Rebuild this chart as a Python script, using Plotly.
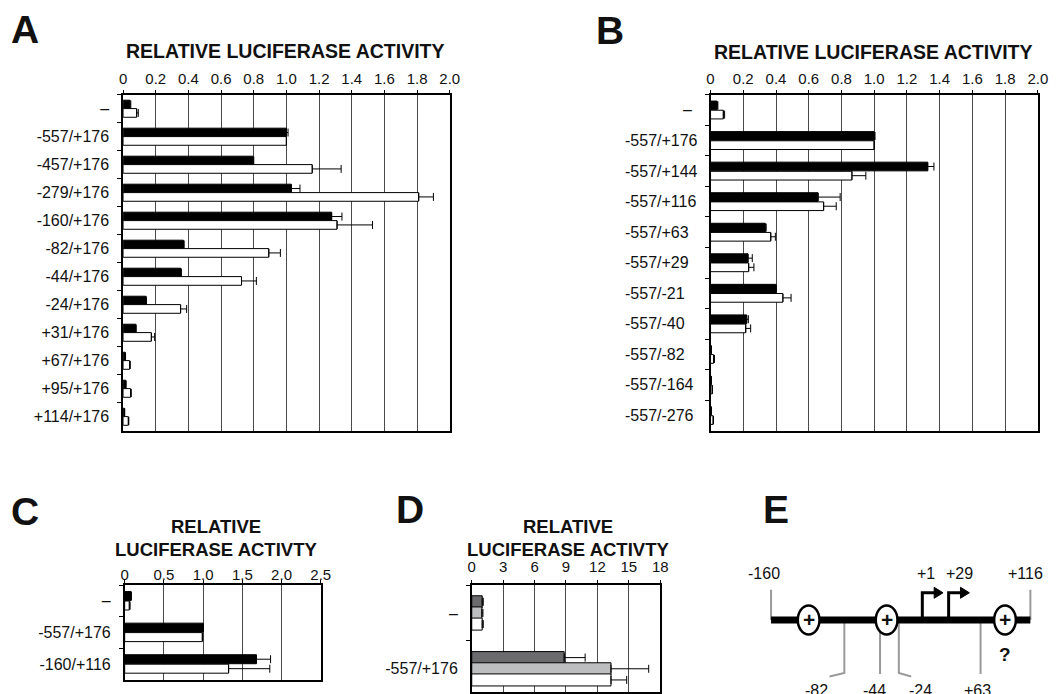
import plotly.graph_objects as go

W, H = 1060, 694
FONT = "Liberation Sans, Arial, sans-serif"


def px(x):
    """page x pixel -> paper coordinate"""
    return x / W


def py(y):
    """page y pixel -> paper coordinate"""
    return 1 - y / H


# ---------------- data ----------------
a_cats = ["–", "-557/+176", "-457/+176", "-279/+176", "-160/+176", "-82/+176",
          "-44/+176", "-24/+176", "+31/+176", "+67/+176", "+95/+176", "+114/+176"]
a_black = [0.042, 1.0, 0.795, 1.03, 1.277, 0.369, 0.352, 0.139, 0.077, 0.012, 0.016, 0.008]
a_black_err = [0.005, 0.01, 0.005, 0.053, 0.063, 0.005, 0.005, 0.004, 0.003, 0.003, 0.002, 0.002]
a_white = [0.083, 1.0, 1.158, 1.81, 1.31, 0.892, 0.725, 0.352, 0.173, 0.040, 0.046, 0.032]
a_white_err = [0.01, 0.0, 0.177, 0.09, 0.217, 0.071, 0.091, 0.037, 0.02, 0.004, 0.004, 0.003]

b_cats = ["–", "-557/+176", "-557/+144", "-557/+116", "-557/+63", "-557/+29",
          "-557/-21", "-557/-40", "-557/-82", "-557/-164", "-557/-276"]
b_black = [0.04, 1.0, 1.327, 0.657, 0.334, 0.229, 0.398, 0.221, 0.004, 0.004, 0.004]
b_black_err = [0.005, 0.005, 0.038, 0.135, 0.006, 0.026, 0.004, 0.01, 0.0, 0.0, 0.0]
b_white = [0.078, 1.0, 0.864, 0.691, 0.368, 0.233, 0.442, 0.215, 0.018, 0.010, 0.016]
b_white_err = [0.008, 0.0, 0.085, 0.077, 0.028, 0.032, 0.05, 0.03, 0.006, 0.002, 0.002]

c_cats = ["–", "-557/+176", "-160/+116"]
c_black = [0.083, 1.0, 1.68]
c_black_err = [0.0, 0.005, 0.18]
c_white = [0.059, 0.99, 1.325]
c_white_err = [0.01, 0.005, 0.525]

d_cats = ["–", "-557/+176"]
d_dark = [1.0, 8.83]
d_dark_err = [0.1, 2.0]
d_light = [0.97, 13.3]
d_light_err = [0.1, 3.6]
d_white = [1.0, 13.3]
d_white_err = [0.1, 1.5]

a_ticks = [0, 0.2, 0.4, 0.6, 0.8, 1.0, 1.2, 1.4, 1.6, 1.8, 2.0]
a_ticktext = ["0", "0.2", "0.4", "0.6", "0.8", "1.0", "1.2", "1.4", "1.6", "1.8", "2.0"]
c_ticks = [0, 0.5, 1.0, 1.5, 2.0, 2.5]
c_ticktext = ["0", "0.5", "1.0", "1.5", "2.0", "2.5"]
d_ticks = [0, 3, 6, 9, 12, 15, 18]

# promoter map (panel E), positions in bp
e_start, e_end = -160, 116
e_elements = [-120, -37, 89]
e_tss = [1, 29]
e_marks_below = [-82, -44, -24, 63]

fig = go.Figure()


def bar(name, x, err, cats, color, xa, ya, width):
    return go.Bar(
        y=cats, x=x, orientation="h", name=name, width=width,
        marker=dict(color=color, line=dict(color="black", width=1)),
        error_x=dict(type="data", array=err, arrayminus=[0] * len(err), symmetric=False,
                     color="black", thickness=1, width=4),
        xaxis=xa, yaxis=ya, showlegend=False,
    )


fig.add_trace(bar("black", a_black, a_black_err, a_cats, "black", "x", "y", 0.31))
fig.add_trace(bar("white", a_white, a_white_err, a_cats, "white", "x", "y", 0.31))
fig.add_trace(bar("black", b_black, b_black_err, b_cats, "black", "x2", "y2", 0.285))
fig.add_trace(bar("white", b_white, b_white_err, b_cats, "white", "x2", "y2", 0.285))
fig.add_trace(bar("black", c_black, c_black_err, c_cats, "black", "x3", "y3", 0.285))
fig.add_trace(bar("white", c_white, c_white_err, c_cats, "white", "x3", "y3", 0.285))
fig.add_trace(bar("dark", d_dark, d_dark_err, d_cats, "#6b6b6d", "x4", "y4", 0.215))
fig.add_trace(bar("light", d_light, d_light_err, d_cats, "#bdbec0", "x4", "y4", 0.215))
fig.add_trace(bar("white", d_white, d_white_err, d_cats, "white", "x4", "y4", 0.215))


def xaxis(dom, rng, tv, tt, standoff, anchor):
    return dict(domain=dom, range=rng, side="top", tickvals=tv, ticktext=tt, anchor=anchor,
                showgrid=True, gridcolor="#4a4a4a", gridwidth=1, zeroline=False,
                showline=True, linecolor="black", linewidth=1.5, mirror=True,
                ticks="outside", ticklen=3, tickcolor="black",
                tickfont=dict(family=FONT, size=15, color="#111"),
                ticklabelstandoff=standoff, fixedrange=True)


def yaxis(dom, cats, anchor, showlabels=True, rng=None):
    d = dict(domain=dom, type="category", categoryorder="array", categoryarray=cats,
             anchor=anchor,
             tickson="boundaries", ticks="outside", ticklen=4, tickcolor="black",
             showline=True, linecolor="black", linewidth=1.5, mirror=True,
             showgrid=False, showticklabels=showlabels,
             tickfont=dict(family=FONT, size=16, color="#111"),
             ticklabelstandoff=9, fixedrange=True)
    if rng is None:
        d["autorange"] = "reversed"
    else:
        d["range"] = rng
    return d


# panel D: 56 px per category band, axis top at y 586.7, cut by the window bottom
d_band = 56.0
d_bottom_val = -0.5 + (H - 586.7) / d_band

fig.update_layout(
    width=W, height=H, margin=dict(l=0, r=0, t=0, b=0),
    paper_bgcolor="white", plot_bgcolor="white",
    barmode="group", bargap=0.4, bargroupgap=0.0,
    font=dict(family=FONT, color="#111"),
    xaxis=xaxis([px(120.7), px(451.7)], [0, 2.0], a_ticks, a_ticktext, 0, "y"),
    yaxis=yaxis([py(432), py(95)], a_cats, "x"),
    xaxis2=xaxis([px(716), px(1047.7)], [0, 2.0], a_ticks, a_ticktext, 0, "y2"),
    yaxis2=yaxis([py(432), py(95)], b_cats, "x2", showlabels=False),
    xaxis3=xaxis([px(122.3), px(321)], [0, 2.5], c_ticks, c_ticktext, -6, "y3"),
    yaxis3=yaxis([py(681.7), py(586.7)], c_cats, "x3"),
    xaxis4=xaxis([px(474), px(665)], [0, 18], d_ticks, [str(t) for t in d_ticks], 2, "y4"),
    yaxis4=yaxis([0, py(586.7)], d_cats, "x4", rng=[d_bottom_val, -0.5]),
    xaxis5=dict(domain=[px(760), px(1060)], range=[-178.2, 136.9], visible=False,
                fixedrange=True, anchor="y5"),
    yaxis5=dict(domain=[py(694), py(540)], range=[694, 540], visible=False,
                fixedrange=True, anchor="x5"),
)

# ---------- panel B left-aligned category labels ----------
annotations = []
for c in b_cats:
    if c == "–":
        annotations.append(dict(x=px(699), y=c, xref="paper", yref="y2", text=c,
                                xanchor="right", yanchor="middle", showarrow=False,
                                font=dict(family=FONT, size=16, color="#111")))
    else:
        annotations.append(dict(x=px(627), y=c, xref="paper", yref="y2", text=c,
                                xanchor="left", yanchor="middle", showarrow=False,
                                font=dict(family=FONT, size=16, color="#111")))

# ---------- panel letters and titles ----------
for letter, x, y in [("A", 5, 30), ("B", 598, 31), ("C", 5, 513), ("D", 395, 511), ("E", 767, 511)]:
    annotations.append(dict(x=px(x), y=py(y), xref="paper", yref="paper", text=f"<b>{letter}</b>",
                            xanchor="left", yanchor="middle", showarrow=False,
                            font=dict(family=FONT, size=39, color="#111")))
for x, y in [(285.3, 51), (881, 52)]:
    annotations.append(dict(x=px(x), y=py(y), xref="paper", yref="paper",
                            text="<b>RELATIVE LUCIFERASE ACTIVITY</b>",
                            xanchor="center", yanchor="middle", showarrow=False,
                            font=dict(family=FONT, size=19.5, color="#111")))
for x in [215, 572]:
    annotations.append(dict(x=px(x), y=py(528), xref="paper", yref="paper",
                            text="<b>RELATIVE</b>", xanchor="center", yanchor="middle",
                            showarrow=False, font=dict(family=FONT, size=18.5, color="#111")))
    annotations.append(dict(x=px(x), y=py(551), xref="paper", yref="paper",
                            text="<b>LUCIFERASE ACTIVTY</b>", xanchor="center", yanchor="middle",
                            showarrow=False, font=dict(family=FONT, size=18.5, color="#111")))

# ---------- panel E: promoter schematic ----------
shapes = []
bp_per_px = (136.9 + 178.2) / 300.0
line_y = 621.8
gray = "#9a9a9a"


def bp(pxoff):
    return pxoff * bp_per_px


for p in [e_start, e_end]:
    shapes.append(dict(type="line", xref="x5", yref="y5", x0=p, x1=p, y0=591.5, y1=line_y,
                       line=dict(color=gray, width=2)))
bends = {-82: -15, -44: 0, -24: 12.5, 63: 0}
for p in e_marks_below:
    off = bends[p]
    if off == 0:
        path = f"M {p},{line_y} L {p},676"
    else:
        path = f"M {p},{line_y} L {p},675 L {p + bp(off)},678.5"
    shapes.append(dict(type="path", xref="x5", yref="y5", path=path,
                       line=dict(color=gray, width=2)))
shapes.append(dict(type="line", xref="x5", yref="y5", x0=e_start, x1=e_end, y0=line_y, y1=line_y,
                   line=dict(color="black", width=7)))
for p in e_tss:
    shapes.append(dict(type="path", xref="x5", yref="y5",
                       path=f"M {p},{line_y} L {p},594.5 L {p + bp(13)},594.5",
                       line=dict(color="black", width=3)))
    shapes.append(dict(type="path", xref="x5", yref="y5",
                       path=f"M {p + bp(12)},589 L {p + bp(21)},594.5 L {p + bp(12)},600 Z",
                       fillcolor="black", line=dict(color="black", width=1)))
for p in e_elements:
    shapes.append(dict(type="circle", xref="x5", yref="y5",
                       x0=p - bp(11), x1=p + bp(11), y0=line_y - 14.5, y1=line_y + 14.5,
                       fillcolor="white", line=dict(color="black", width=2.5)))
    annotations.append(dict(x=p, y=line_y, xref="x5", yref="y5", text="<b>+</b>",
                            xanchor="center", yanchor="middle", showarrow=False, yshift=1,
                            font=dict(family=FONT, size=21, color="#111")))

annotations.append(dict(x=e_elements[2], y=656.5, xref="x5", yref="y5", text="<b>?</b>",
                        xanchor="center", yanchor="middle", showarrow=False,
                        font=dict(family=FONT, size=19, color="#111")))

top_labels = [(e_start, "-160", -7), (e_tss[0], "+1", 4), (e_tss[1], "+29", 11), (e_end, "+116", -5)]
for p, t, sh in top_labels:
    annotations.append(dict(x=p, y=575, xref="x5", yref="y5", text=t, xshift=sh,
                            xanchor="center", yanchor="middle", showarrow=False,
                            font=dict(family=FONT, size=16, color="#111")))
bottom_shift = {-82: -28, -44: -6, -24: 22, 63: -3}
for p in e_marks_below:
    t = f"{p:+d}" if p > 0 else f"{p}"
    annotations.append(dict(x=p, y=682, xref="x5", yref="y5", text=t, xshift=bottom_shift[p],
                            xanchor="center", yanchor="top", showarrow=False,
                            font=dict(family=FONT, size=16, color="#111")))

fig.update_layout(shapes=shapes, annotations=annotations)
# remove the browser's default 8px body margin so the page is exactly the figure size
fig.write_html("out.html",
               config={"displayModeBar": False},
               post_script="document.body.style.margin='0';document.body.style.overflow='hidden';")
